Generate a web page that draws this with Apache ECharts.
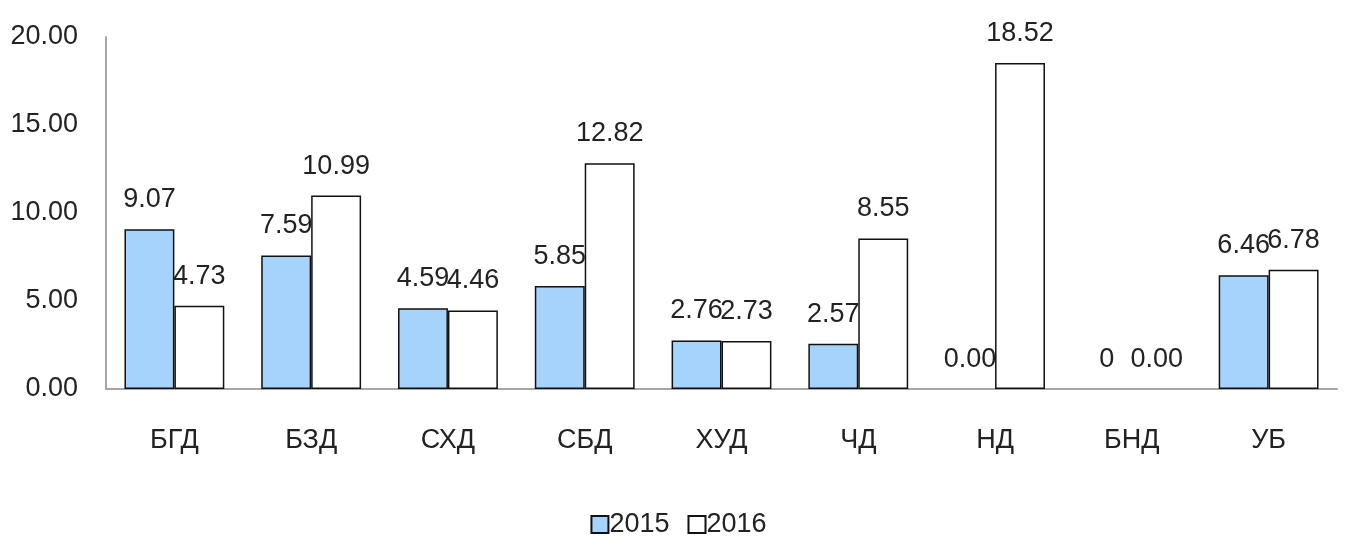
<!DOCTYPE html>
<html>
<head>
<meta charset="utf-8">
<script src="https://cdn.jsdelivr.net/npm/echarts@6/dist/echarts.min.js"></script>
<style>
  html, body { margin: 0; padding: 0; background: #fff; }
  #chart { width: 1357px; height: 543px; }
</style>
</head>
<body>
<div id="chart"></div>
<script>
  // data
  var categories = ['БГД', 'БЗД', 'СХД', 'СБД', 'ХУД', 'ЧД', 'НД', 'БНД', 'УБ'];
  var values2015 = [9.07, 7.59, 4.59, 5.85, 2.76, 2.57, 0.00, 0, 6.46];
  var values2016 = [4.73, 10.99, 4.46, 12.82, 2.73, 8.55, 18.52, 0.00, 6.78];
  var labels2015 = ['9.07', '7.59', '4.59', '5.85', '2.76', '2.57', '0.00', '0', '6.46'];
  var labels2016 = ['4.73', '10.99', '4.46', '12.82', '2.73', '8.55', '18.52', '0.00', '6.78'];
  var yTicks = [0, 5, 10, 15, 20];

  var font = '"Liberation Sans", Arial, sans-serif';
  var myChart = echarts.init(document.getElementById('chart'));

  // zero bars get no outline (Excel draws nothing there)
  function toItems(arr) {
    return arr.map(function (v) {
      return v === 0 ? { value: v, itemStyle: { borderWidth: 0 } } : v;
    });
  }

  var option = {
    animation: false,
    textStyle: { fontFamily: font },
    grid: {
      left: 106,
      right: 20,
      top: 37,
      bottom: 154
    },
    legend: {
      bottom: 0,
      left: 'center',
      itemWidth: 17,
      itemHeight: 17,
      itemGap: 18,
      icon: 'rect',
      textStyle: { fontSize: 27, color: '#222', fontFamily: font, padding: [0, 0, 0, -4] },
      data: ['2015', '2016']
    },
    xAxis: {
      type: 'category',
      data: categories,
      axisLine: { lineStyle: { color: '#a6a6a6', width: 2 } },
      axisTick: { show: false },
      axisLabel: { fontSize: 27, color: '#222', margin: 38 }
    },
    yAxis: {
      type: 'value',
      min: yTicks[0],
      max: yTicks[yTicks.length - 1],
      interval: 5,
      splitLine: { show: false },
      axisLine: { show: true, lineStyle: { color: '#a6a6a6', width: 2 } },
      axisTick: { show: false },
      axisLabel: {
        fontSize: 27,
        color: '#222',
        margin: 28,
        formatter: function (v) { return v.toFixed(2); }
      }
    },
    series: [
      {
        name: '2015',
        type: 'bar',
        data: toItems(values2015),
        barGap: '0%',
        barCategoryGap: '27%',
        itemStyle: { color: '#a6d3fc', borderColor: '#111', borderWidth: 1.5 },
        label: {
          show: true,
          position: 'top',
          distance: 16,
          fontSize: 27,
          color: '#222',
          formatter: function (p) { return labels2015[p.dataIndex]; }
        }
      },
      {
        name: '2016',
        type: 'bar',
        data: toItems(values2016),
        itemStyle: { color: '#ffffff', borderColor: '#111', borderWidth: 1.5 },
        label: {
          show: true,
          position: 'top',
          distance: 16,
          fontSize: 27,
          color: '#222',
          formatter: function (p) { return labels2016[p.dataIndex]; }
        }
      }
    ]
  };
  myChart.setOption(option);
</script>
</body>
</html>
